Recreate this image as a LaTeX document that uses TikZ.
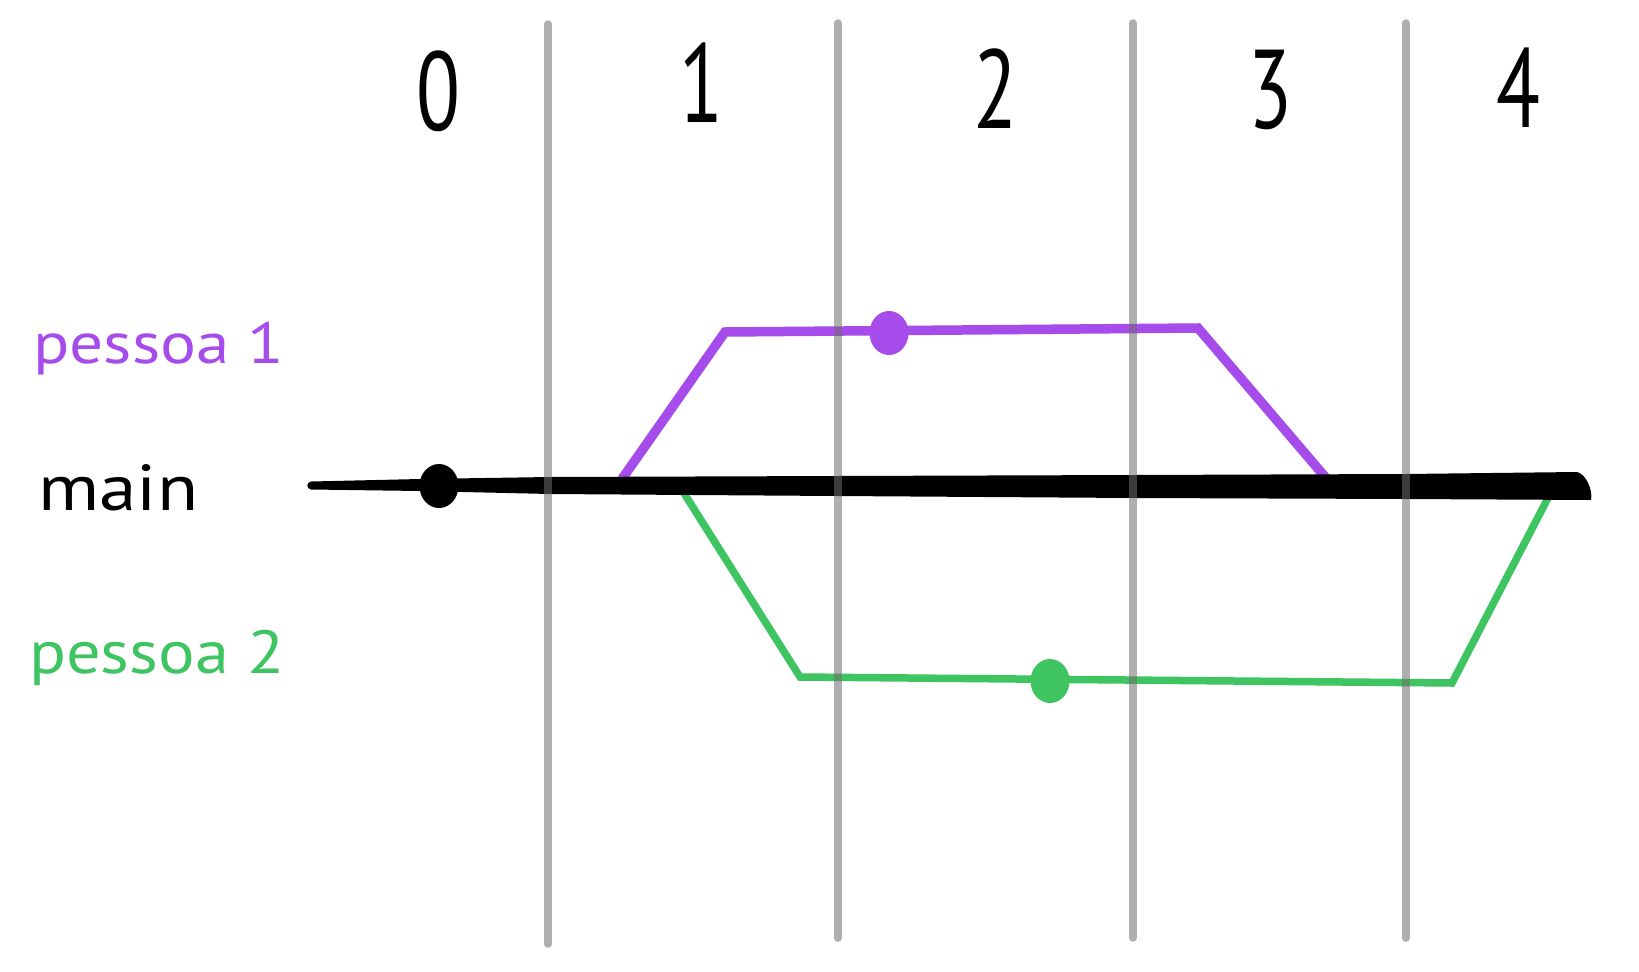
\documentclass[tikz,border=0pt]{standalone}
\usepackage{fontspec}
\setmainfont{PT Sans}
\usetikzlibrary{calc,shapes.geometric}
\definecolor{pur}{RGB}{166,76,234}
\definecolor{grn}{RGB}{62,196,96}
\definecolor{gridg}{RGB}{110,110,110}
\tikzset{
  gridline/.style={draw=gridg, draw opacity=0.55, line width=7.5pt, line cap=round},
  branchp/.style={draw=pur, line width=9.5pt, line join=miter},
  branchg/.style={draw=grn, line width=7.5pt, line join=miter},
  commitdot/.style={ellipse, minimum width=39pt, minimum height=44pt, inner sep=0pt, fill=#1},
  digit/.style={anchor=base, inner sep=0pt, font=\fontsize{112}{112}\selectfont},
  lbl/.style={anchor=base west, inner sep=0pt, font=\fontsize{58}{58}\selectfont},
}
\begin{document}
\begin{tikzpicture}[x=1pt,y=-1pt]
\useasboundingbox (0,0) rectangle (1639,972);
\fill[white] (0,0) rectangle (1639,972);
% labels
\node[lbl, text=pur] (l1) at (33,363) {\scalebox{1.16}[1]{pessoa 1}};
\node[lbl, text=black] (lm) at (38,510) {\scalebox{1.3}[1.12]{main}};
\node[lbl, text=grn] (l2) at (29,673) {\scalebox{1.18}[1.05]{pessoa 2}};
% digits
\node[digit] (d0) at (438,130) {\scalebox{0.72}[1]{0}};
\node[digit] (d1) at (701,122) {\scalebox{0.72}[1]{1}};
\node[digit] (d2) at (995,128) {\scalebox{0.72}[1]{2}};
\node[digit] (d3) at (1270,128) {\scalebox{0.72}[1]{3}};
\node[digit] (d4) at (1518,127) {\scalebox{0.72}[1]{4}};
% branch coordinates
\coordinate (p0) at (622,479);
\coordinate (p1) at (725,332);
\coordinate (p2) at (1198,328);
\coordinate (p3) at (1326,478);
\coordinate (g0) at (682,490);
\coordinate (g1) at (800,677);
\coordinate (g2) at (1452,683);
\coordinate (g3) at (1549,496);
% purple branch
\draw[branchp] (p0) -- (p1) -- (p2) -- (p3);
% green branch
\draw[branchg] (g0) -- (g1) -- (g2) -- (g3);
% main line (tapered)
\fill[black] (311,481.5) -- (420,479) -- (550,477) -- (837,476) -- (1134,475) -- (1405,474) -- (1577,472)
  .. controls (1586,474) and (1593,490) .. (1591,500)
  -- (1405,499) -- (1134,498) -- (837,496) -- (550,494) -- (420,491) -- (311,489.5)
  .. controls (306,488.5) and (306,482.5) .. (311,481.5) -- cycle;
% commits
\node[commitdot=black] (c0) at (439,486) {};
\node[commitdot=pur] (c1) at (889,333) {};
\node[commitdot=grn] (c2) at (1050,681) {};
% grid lines
\coordinate (v1t) at (548,24); \coordinate (v1b) at (548,944);
\coordinate (v2t) at (838,23); \coordinate (v2b) at (838,938);
\coordinate (v3t) at (1133,23); \coordinate (v3b) at (1133,938);
\coordinate (v4t) at (1406,23); \coordinate (v4b) at (1406,938);
\draw[gridline] (v1t) -- (v1b);
\draw[gridline] (v2t) -- (v2b);
\draw[gridline] (v3t) -- (v3b);
\draw[gridline] (v4t) -- (v4b);
\end{tikzpicture}
\end{document}
